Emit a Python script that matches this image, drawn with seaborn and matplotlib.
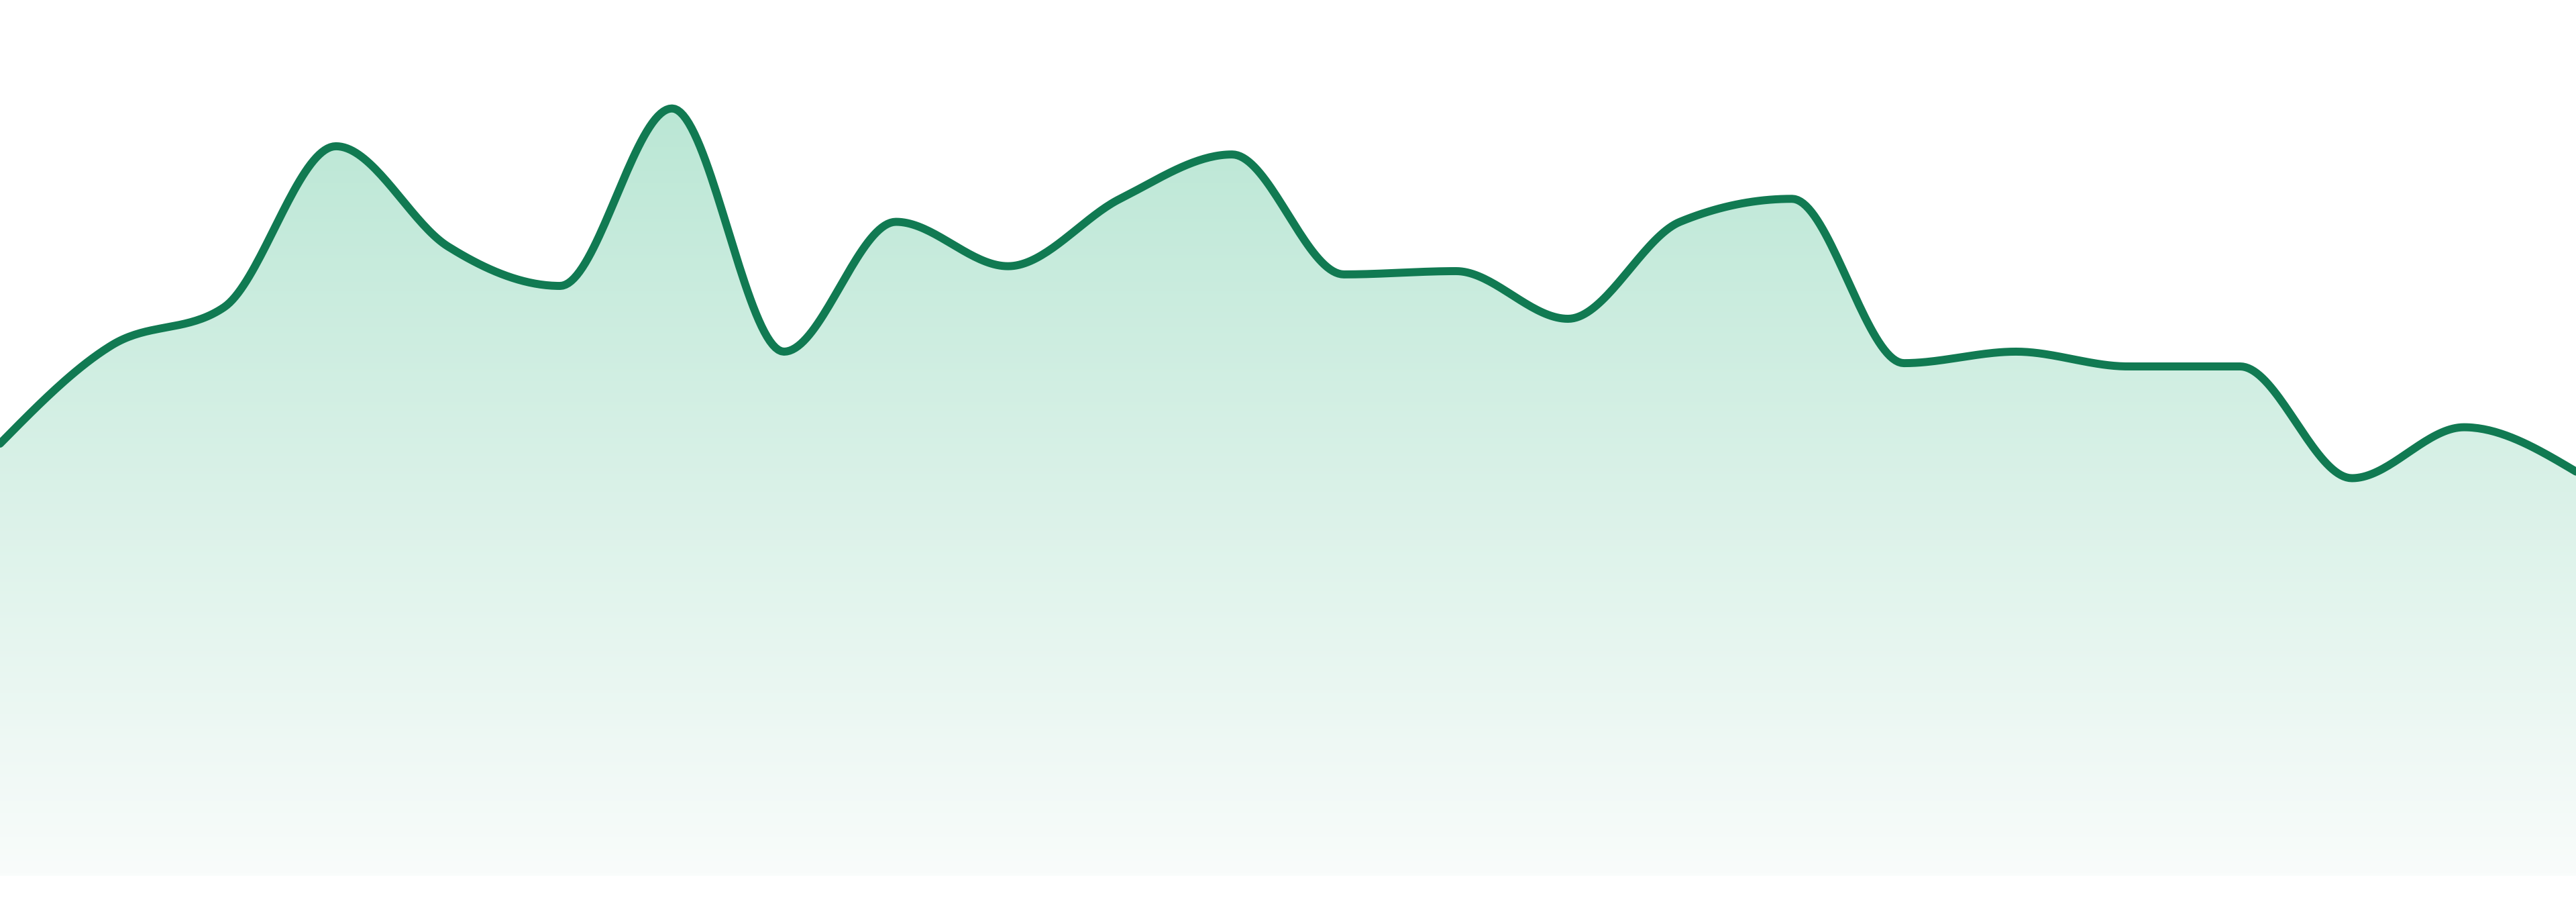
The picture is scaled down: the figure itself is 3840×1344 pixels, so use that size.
import numpy as np
import matplotlib
matplotlib.use('Agg')
import matplotlib.pyplot as plt
import seaborn as sns
from matplotlib.colors import LinearSegmentedColormap

# 数据：24个点，数值按图中像素高度估读
idx = list(range(24))
values = [263, 323, 346, 444, 383, 359, 467, 319, 398, 371, 412, 439,
          366, 368, 339, 398, 412, 312, 319, 310, 310, 242, 273, 246]

LINE_COLOR = '#117a52'
TOP_COLOR = '#bbe7d5'
BOTTOM_COLOR = '#f9fcfb'


def monotone_x(x, y, n_seg=40):
    """单调三次插值（与 d3.curveMonotoneX 相同的切线规则）。"""
    x = np.asarray(x, dtype=float)
    y = np.asarray(y, dtype=float)
    n = len(x)
    h = np.diff(x)
    s = np.diff(y) / h
    t = np.zeros(n)
    for i in range(1, n - 1):
        p = (s[i - 1] * h[i] + s[i] * h[i - 1]) / (h[i - 1] + h[i])
        t[i] = (np.sign(s[i - 1]) + np.sign(s[i])) * min(abs(s[i - 1]), abs(s[i]), 0.5 * abs(p))
    t[0] = (3 * s[0] - t[1]) / 2
    t[-1] = (3 * s[-1] - t[-2]) / 2

    xs, ys = [], []
    u = np.linspace(0, 1, n_seg, endpoint=False)
    for i in range(n - 1):
        dx = h[i] / 3
        px = [x[i], x[i] + dx, x[i + 1] - dx, x[i + 1]]
        py = [y[i], y[i] + dx * t[i], y[i + 1] - dx * t[i + 1], y[i + 1]]
        b = [(1 - u) ** 3, 3 * u * (1 - u) ** 2, 3 * u ** 2 * (1 - u), u ** 3]
        xs.append(sum(bi * pi for bi, pi in zip(b, px)))
        ys.append(sum(bi * pi for bi, pi in zip(b, py)))
    xs.append([x[-1]])
    ys.append([y[-1]])
    return np.concatenate(xs), np.concatenate(ys)


sns.set_theme(style='white')

fig = plt.figure(figsize=(38.4, 13.44), dpi=100)
ax = fig.add_axes([0, 39 / 1344, 1, 1 - 39 / 1344])

xs, ys = monotone_x(idx, values)

# 渐变填充
fill = ax.fill_between(xs, ys, 0, color='none', lw=0)
cmap = LinearSegmentedColormap.from_list('g', [BOTTOM_COLOR, TOP_COLOR])
grad = np.linspace(0, 1, 256).reshape(-1, 1)
img = ax.imshow(grad, cmap=cmap, aspect='auto', origin='lower',
                extent=[idx[0], idx[-1], 0, max(values)], zorder=1)
img.set_clip_path(fill.get_paths()[0], transform=ax.transData)

sns.lineplot(x=xs, y=ys, ax=ax, color=LINE_COLOR, linewidth=8.6,
             sort=False, estimator=None, zorder=3)
ax.lines[-1].set_solid_capstyle('round')
ax.lines[-1].set_solid_joinstyle('round')

ax.set_xlim(idx[0], idx[-1])
ax.set_ylim(0, 533)
ax.axis('off')

fig.savefig('out.png', dpi=100, facecolor='white')
